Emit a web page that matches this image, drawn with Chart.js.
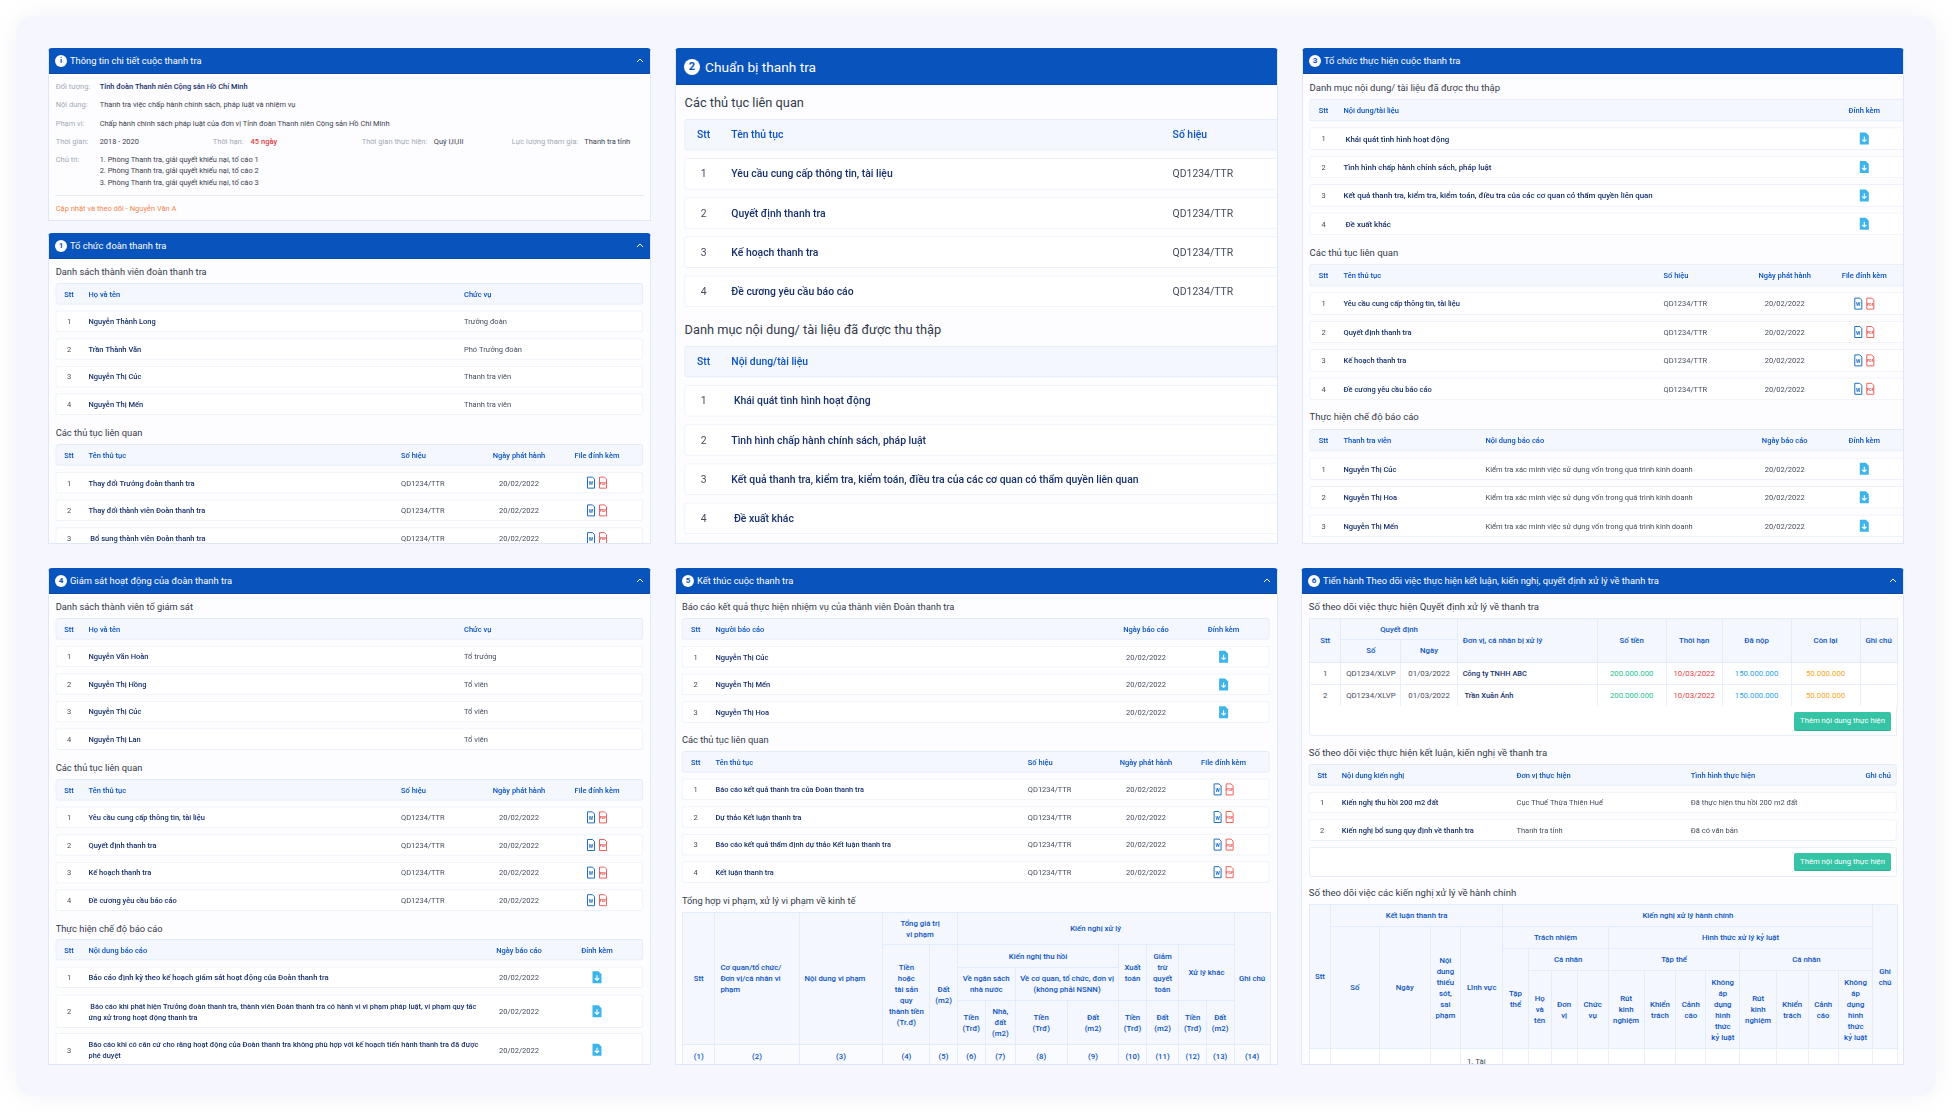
<!DOCTYPE html>
<html lang="vi">
<head>
<meta charset="utf-8">
<title>Thanh tra</title>
<script src="https://cdn.jsdelivr.net/npm/chart.js@4"></script>
<style>
  html, body { margin: 0; padding: 0; background: #fff; width: 1952px; height: 1112px; overflow: hidden; font-family: Roboto, sans-serif; }
  #card { position: absolute; left: 16px; top: 16px; width: 1920px; height: 1080px; background: #f5f6fe; border-radius: 18px; box-shadow: 0 0 22px rgba(120, 130, 190, .10); }
  #stage { position: absolute; left: 0; top: 0; width: 1952px; height: 1112px; }
  .panel { position: absolute; background: #fdfdff; overflow: hidden; border-radius: 4px 4px 0 0; }
  .panel::after { content: ''; position: absolute; inset: 0; border: 1px solid #dfe7f8; border-top: 0; pointer-events: none; }
  .head { position: absolute; left: 0; top: 0; right: 0; background: #0953bd; border-bottom: 1px solid #0a49a5; box-sizing: border-box; }
  .dot { position: absolute; background: #fff; color: #0953bd; border-radius: 50%; text-align: center; font-weight: 700; }
  .t { position: absolute; white-space: pre; }
  .panel canvas { position: absolute; }
  table.grid { position: absolute; border-collapse: collapse; table-layout: fixed; font-size: 7.8px; line-height: 11px; }
  table.grid th { background: #f4f7fd; border: 1px solid #e3ecfb; color: #0b53c1; font-weight: 500; padding: 0 2px; text-align: center; overflow: hidden; }
  table.grid th.l { text-align: left; padding-left: 5px; }
  table.grid td { background: #fff; border: 1px solid #eaf0fb; color: #444c5c; padding: 0 2px; text-align: center; overflow: hidden; white-space: nowrap; vertical-align: middle; }
  table.grid td.top { vertical-align: top; padding-top: 7px; text-align: left; padding-left: 6px; }
  table.grid td.b { color: #17306b; font-weight: 500; text-align: left; padding-left: 5px; font-size: 7.5px; }
  .box { position: absolute; background: #fff; border: 1px solid #eaf0fb; box-sizing: border-box; border-radius: 2px; }
  .btn { position: absolute; background: #35c4a5; color: #fff; border-radius: 2px; font-size: 7.7px; text-align: center; border-bottom: 1px solid #2bb093; box-sizing: border-box; }
</style>
</head>
<body>
<div id="card"></div>
<div id="stage"></div>
<script>
// --- table contents ---
const stt3 = ['1', '2', '3'];
const stt4 = ['1', '2', '3', '4'];
const soHieu = ['QD1234/TTR', 'QD1234/TTR', 'QD1234/TTR', 'QD1234/TTR'];
const ngay = ['20/02/2022', '20/02/2022', '20/02/2022', '20/02/2022'];
const hai = ['x', 'x', 'x', 'x'];

const thanhVienDoan = ['Nguyễn Thành Long', 'Trần Thành Văn', 'Nguyễn Thị Cúc', 'Nguyễn Thị Mến'];
const chucVuDoan = ['Trưởng đoàn', 'Phó Trưởng đoàn', 'Thanh tra viên', 'Thanh tra viên'];
const thuTucDoan = ['Thay đổi Trưởng đoàn thanh tra', 'Thay đổi thành viên Đoàn thanh tra', ' Bổ sung thành viên Đoàn thanh tra'];

const thuTucChung = ['Yêu cầu cung cấp thông tin, tài liệu', 'Quyết định thanh tra', 'Kế hoạch thanh tra', 'Đề cương yêu cầu báo cáo'];
const taiLieu = [' Khái quát tình hình hoạt động', 'Tình hình chấp hành chính sách, pháp luật', 'Kết quả thanh tra, kiểm tra, kiểm toán, điều tra của các cơ quan có thẩm quyền liên quan', ' Đề xuất khác'];

const thanhTraVien = ['Nguyễn Thị Cúc', 'Nguyễn Thị Hoa', 'Nguyễn Thị Mến'];
const kiemTra = 'Kiểm tra xác minh việc sử dụng vốn trong quá trình kinh doanh';
const noiDungBaoCaoVien = [kiemTra, kiemTra, kiemTra];

const toGiamSat = ['Nguyễn Văn Hoàn', 'Nguyễn Thị Hồng', 'Nguyễn Thị Cúc', 'Nguyễn Thị Lan'];
const chucVuTo = ['Tổ trưởng', 'Tổ viên', 'Tổ viên', 'Tổ viên'];
const baoCaoDinhKy = ['Báo cáo định kỳ theo kế hoạch giám sát hoạt động của Đoàn thanh tra'];
const baoCaoKhac = [
  ' Báo cáo khi phát hiện Trưởng đoàn thanh tra, thành viên Đoàn thanh tra có hành vi vi phạm pháp luật, vi phạm quy tắc\nứng xử trong hoạt động thanh tra',
  'Báo cáo khi có căn cứ cho rằng hoạt động của Đoàn thanh tra không phù hợp với kế hoạch tiến hành thanh tra đã được\nphê duyệt'
];

const nguoiBaoCao = ['Nguyễn Thị Cúc', 'Nguyễn Thị Mến', 'Nguyễn Thị Hoa'];
const thuTucKetThuc = ['Báo cáo kết quả thanh tra của Đoàn thanh tra', 'Dự thảo Kết luận thanh tra', 'Báo cáo kết quả thẩm định dự thảo Kết luận thanh tra', 'Kết luận thanh tra'];
const cotViPham = ['(1)', '(2)', '(3)', '(4)', '(5)', '(6)', '(7)', '(8)', '(9)', '(10)', '(11)', '(12)', '(13)', '(14)'];

const qdSo = ['QD1234/XLVP', 'QD1234/XLVP'];
const qdNgay = ['01/03/2022', '01/03/2022'];
const qdDonVi = ['Công ty TNHH ABC', ' Trần Xuân Ánh'];
const soTien = ['200.000.000', '200.000.000'];
const thoiHan = ['10/03/2022', '10/03/2022'];
const daNop = ['150.000.000', '150.000.000'];
const conLai = ['50.000.000', '50.000.000'];

const kienNghi = ['Kiến nghị thu hồi 200 m2 đất', 'Kiến nghị bổ sung quy định về thanh tra'];
const donViThucHien = ['Cục Thuế Thừa Thiên Huế', 'Thanh tra tỉnh'];
const tinhHinh = ['Đã thực hiện thu hồi 200 m2 đất', 'Đã có văn bản'];

// --- colours and fonts ---
const NAVY = '#17306b', BLUE = '#0b53c1', GREY = '#444c5c', MUTED = '#a3a9b6';

const stage = document.getElementById('stage');

function txt(parent, text, x, yc, css) {
  const el = document.createElement('div');
  el.className = 't';
  el.textContent = text;
  const box = parent._box || { x: 0, y: 0 };
  el.style.left = (x - box.x) + 'px';
  el.style.top = (yc - box.y - 8) + 'px';
  el.style.lineHeight = '16px';
  el.style.cssText += css;
  parent.appendChild(el);
  return el;
}

function panel(x, y, w, h, num, title, big, chevron) {
  const el = document.createElement('div');
  el.className = 'panel';
  el._box = { x, y };
  el.style.cssText = `left:${x}px;top:${y}px;width:${w}px;height:${h}px`;
  const hh = big ? 37 : 26;
  const head = document.createElement('div');
  head.className = 'head';
  head.style.height = hh + 'px';
  el.appendChild(head);
  const d = big ? 16 : 12;
  const dot = document.createElement('div');
  dot.className = 'dot';
  dot.textContent = num;
  dot.style.cssText = `left:${big ? 9 : 7}px;top:${(hh - d) / 2}px;width:${d}px;height:${d}px;line-height:${d}px;font-size:${big ? 11 : 8}px`;
  el.appendChild(dot);
  txt(el, title, x + (big ? 30 : 22), y + hh / 2, `color:#fff;font-size:${big ? 13.7 : 9.35}px`);
  if (chevron) {
    const s = document.createElementNS('http://www.w3.org/2000/svg', 'svg');
    s.setAttribute('width', 8); s.setAttribute('height', 5);
    s.style.cssText = `position:absolute;left:${w - 15}px;top:${hh / 2 - 3}px`;
    s.innerHTML = '<path d="M1 4 L4 1 L7 4" fill="none" stroke="#fff" stroke-width="1"/>';
    el.appendChild(s);
  }
  stage.appendChild(el);
  return el;
}

function section(p, text, x, yc, size) {
  txt(p, text, x, yc, `color:#333a49;font-size:${size || 9.3}px`);
}

// --- Chart.js plugin: column text and file icons placed through the chart's scales ---
function wordIcon(ctx, cx, cy) {
  ctx.strokeStyle = '#1f6fc4'; ctx.lineWidth = 1; ctx.fillStyle = '#fff';
  ctx.beginPath(); ctx.moveTo(cx - 3.5, cy - 5.5); ctx.lineTo(cx + 1.5, cy - 5.5); ctx.lineTo(cx + 3.5, cy - 3.5); ctx.lineTo(cx + 3.5, cy + 5.5); ctx.lineTo(cx - 3.5, cy + 5.5); ctx.closePath(); ctx.fill(); ctx.stroke();
  ctx.fillStyle = '#1f6fc4'; ctx.font = '700 5px Roboto'; ctx.textAlign = 'center'; ctx.textBaseline = 'middle';
  ctx.fillText('W', cx, cy + 1.5);
}
function pdfIcon(ctx, cx, cy) {
  ctx.strokeStyle = '#f06060'; ctx.lineWidth = 1; ctx.fillStyle = '#fff';
  ctx.beginPath(); ctx.moveTo(cx - 3.5, cy - 5.5); ctx.lineTo(cx + 1.5, cy - 5.5); ctx.lineTo(cx + 3.5, cy - 3.5); ctx.lineTo(cx + 3.5, cy + 5.5); ctx.lineTo(cx - 3.5, cy + 5.5); ctx.closePath(); ctx.fill(); ctx.stroke();
  ctx.fillStyle = '#ef4a4a'; ctx.font = '700 3.6px Roboto'; ctx.textAlign = 'center'; ctx.textBaseline = 'middle';
  ctx.fillText('PDF', cx, cy + 1);
}
function downloadIcon(ctx, cx, cy) {
  ctx.fillStyle = '#3db5ea';
  ctx.beginPath(); ctx.moveTo(cx - 4.5, cy - 6); ctx.lineTo(cx + 1.5, cy - 6); ctx.lineTo(cx + 4.5, cy - 3); ctx.lineTo(cx + 4.5, cy + 6); ctx.lineTo(cx - 4.5, cy + 6); ctx.closePath(); ctx.fill();
  ctx.strokeStyle = '#fff'; ctx.lineWidth = 1.1;
  ctx.beginPath(); ctx.moveTo(cx, cy - 2); ctx.lineTo(cx, cy + 3); ctx.moveTo(cx - 2.2, cy + 1); ctx.lineTo(cx, cy + 3); ctx.lineTo(cx + 2.2, cy + 1); ctx.stroke();
}

const cellsPlugin = {
  id: 'cells',
  afterDatasetsDraw(chart, args, opts) {
    const ctx = chart.ctx, sx = chart.scales.x, sy = chart.scales.y;
    ctx.save();
    opts.cols.forEach(col => {
      const px = sx.getPixelForValue(col.x);
      const list = opts.header ? [col.head].concat(col.values) : col.values;
      list.forEach((val, i) => {
        const py = sy.getPixelForValue(i);
        if (opts.header && i === 0) {
          ctx.font = `500 ${opts.size}px Roboto`;
          ctx.fillStyle = BLUE;
          ctx.textAlign = col.align || 'left';
          ctx.textBaseline = 'middle';
          ctx.fillText(val, px, py + 1);
        } else if (col.kind === 'files') {
          wordIcon(ctx, px - 6, py);
          pdfIcon(ctx, px + 6, py);
        } else if (col.kind === 'download') {
          downloadIcon(ctx, px, py);
        } else {
          ctx.font = `${col.kind === 'name' ? 500 : 400} ${col.size || opts.size}px Roboto`;
          ctx.fillStyle = col.kind === 'name' ? NAVY : GREY;
          ctx.textAlign = col.align || 'left';
          ctx.textBaseline = 'middle';
          const lines = String(val).split('\n');
          lines.forEach((line, k) => ctx.fillText(line, px, py + 1 + (k - (lines.length - 1) / 2) * 11));
        }
      });
    });
    ctx.restore();
  }
};

// one chart per list table: each row is a floating bar spanning the table width
function rowTable(p, o) {
  const n = o.cols[0].values.length + (o.header === false ? 0 : 1);
  const header = o.header !== false;
  const left = Math.floor(o.left) - 2;
  const cw = Math.ceil(o.right - left) + 4;
  const ch = Math.round(o.pitch * n);
  const c = document.createElement('canvas');
  c.width = cw; c.height = ch;
  c.style.left = (left - p._box.x) + 'px';
  c.style.top = Math.round(o.first - o.pitch / 2 - p._box.y) + 'px';
  p.appendChild(c);
  const labels = Array.from({ length: n }, (_, i) => 'r' + i);
  new Chart(c, {
    type: 'bar',
    data: {
      labels: labels,
      datasets: [{
        data: labels.map(() => [o.left, o.right]),
        backgroundColor: labels.map((_, i) => header && i === 0 ? '#f4f7fd' : '#ffffff'),
        borderColor: labels.map((_, i) => header && i === 0 ? '#e3ebf8' : '#eef1f9'),
        borderWidth: 1,
        borderRadius: 3,
        borderSkipped: false,
        barThickness: o.thick
      }]
    },
    options: {
      indexAxis: 'y',
      responsive: false,
      animation: false,
      layout: { padding: 0 },
      plugins: {
        legend: { display: false },
        tooltip: { enabled: false },
        cells: { cols: o.cols, size: o.size || 7.5, header: header }
      },
      scales: {
        x: { type: 'linear', display: false, min: left, max: left + cw },
        y: { type: 'category', display: false }
      }
    },
    plugins: [cellsPlugin]
  });
}

function grid(p, x, y, widths, heights, html) {
  const t = document.createElement('table');
  t.className = 'grid';
  t.style.cssText = `left:${x - p._box.x}px;top:${y - p._box.y}px;width:${widths.reduce((a, b) => a + b, 0)}px`;
  t.innerHTML = '<colgroup>' + widths.map(w => `<col style="width:${w}px">`).join('') + '</colgroup>' + html;
  Array.from(t.rows).forEach((r, i) => { if (heights[i]) r.style.height = heights[i] + 'px'; });
  p.appendChild(t);
  return t;
}

function button(p, text, x, y, w, h) {
  const b = document.createElement('div');
  b.className = 'btn';
  b.textContent = text;
  b.style.cssText = `left:${x - p._box.x}px;top:${y - p._box.y}px;width:${w}px;height:${h}px;line-height:${h - 1}px`;
  p.appendChild(b);
}

// --- panel: thông tin chi tiết ---
const pA = panel(48, 48, 603, 173, 'i', 'Thông tin chi tiết cuộc thanh tra', false, true);
const lab = 'color:' + MUTED + ';font-size:7.5px';
const val = 'color:#3a4150;font-size:7.45px';
txt(pA, 'Đối tượng:', 55.7, 86.7, lab);
txt(pA, 'Tỉnh đoàn Thanh niên Cộng sản Hồ Chí Minh', 99.7, 86.7, 'color:' + NAVY + ';font-weight:500;font-size:7.45px');
txt(pA, 'Nội dung:', 55.7, 105, lab);
txt(pA, 'Thanh tra việc chấp hành chính sách, pháp luật và nhiệm vụ', 99.7, 105, val);
txt(pA, 'Phạm vi:', 55.7, 123.7, lab);
txt(pA, 'Chấp hành chính sách pháp luật của đơn vị Tỉnh đoàn Thanh niên Cộng sản Hồ Chí Minh', 99.7, 123.7, val);
txt(pA, 'Thời gian:', 55.7, 142, lab);
txt(pA, '2018 - 2020', 99.7, 142, val);
txt(pA, 'Thời hạn:', 212.8, 142, lab);
txt(pA, '45 ngày', 250.6, 142, 'color:#e23b3b;font-weight:500;font-size:7.5px');
txt(pA, 'Thời gian thực hiện:', 361.7, 142, lab);
txt(pA, 'Quý I,II,III', 433.8, 142, val);
txt(pA, 'Lực lượng tham gia:', 511.8, 142, lab);
txt(pA, 'Thanh tra tỉnh', 584.3, 142, val);
txt(pA, 'Chủ trì:', 55.7, 160.3, lab);
txt(pA, '1. Phòng Thanh tra, giải quyết khiếu nại, tố cáo 1', 99.7, 160.3, val);
txt(pA, '2. Phòng Thanh tra, giải quyết khiếu nại, tố cáo 2', 99.7, 171.3, val);
txt(pA, '3. Phòng Thanh tra, giải quyết khiếu nại, tố cáo 3', 99.7, 182.7, val);
const rule = document.createElement('div');
rule.style.cssText = 'position:absolute;left:7px;right:7px;top:147px;height:1px;background:#e6ebf4';
pA.appendChild(rule);
txt(pA, 'Cập nhật và theo dõi - Nguyễn Văn A', 55.7, 208.7, 'color:#f5874f;font-size:7.5px');

// --- panel 1: tổ chức đoàn ---
const pB = panel(48, 233, 603, 311, '1', 'Tổ chức đoàn thanh tra', false, true);
section(pB, 'Danh sách thành viên đoàn thanh tra', 55.7, 271.7);
rowTable(pB, { left: 55.7, right: 643, first: 293.7, pitch: 27.67, thick: 21, cols: [
  { x: 69, align: 'center', head: 'Stt', values: stt4 },
  { x: 88.5, head: 'Họ và tên', values: thanhVienDoan, kind: 'name' },
  { x: 464, head: 'Chức vụ', values: chucVuDoan }
] });
section(pB, 'Các thủ tục liên quan', 55.7, 432.7);
rowTable(pB, { left: 55.7, right: 643, first: 454.7, pitch: 27.67, thick: 21, cols: [
  { x: 69, align: 'center', head: 'Stt', values: stt3 },
  { x: 88.5, head: 'Tên thủ tục', values: thuTucDoan, kind: 'name' },
  { x: 401, head: 'Số hiệu', values: soHieu.slice(0, 3) },
  { x: 519, align: 'center', head: 'Ngày phát hành', values: ngay.slice(0, 3) },
  { x: 597, align: 'center', head: 'File đính kèm', values: hai.slice(0, 3), kind: 'files' }
] });

// --- panel 2: chuẩn bị ---
const pC = panel(675, 48, 603, 496, '2', 'Chuẩn bị thanh tra', true, false);
section(pC, 'Các thủ tục liên quan', 684.6, 103.2, 12.8);
rowTable(pC, { left: 684.6, right: 1295, first: 134.7, pitch: 39.1, thick: 31, size: 10.4, cols: [
  { x: 703.6, align: 'center', head: 'Stt', values: stt4 },
  { x: 731.3, head: 'Tên thủ tục', values: thuTucChung, kind: 'name' },
  { x: 1172.6, head: 'Số hiệu', values: soHieu }
] });
section(pC, 'Danh mục nội dung/ tài liệu đã được thu thập', 684.6, 330, 12.8);
rowTable(pC, { left: 684.6, right: 1295, first: 362, pitch: 39.1, thick: 31, size: 10.4, cols: [
  { x: 703.6, align: 'center', head: 'Stt', values: stt4 },
  { x: 731.3, head: 'Nội dung/tài liệu', values: taiLieu, kind: 'name' }
] });

// --- panel 3: tổ chức thực hiện ---
const pD = panel(1302, 48, 602, 496, '3', 'Tổ chức thực hiện cuộc thanh tra', false, false);
section(pD, 'Danh mục nội dung/ tài liệu đã được thu thập', 1309.6, 87.7, 9.5);
rowTable(pD, { left: 1309.6, right: 1920, first: 110, pitch: 28.4, thick: 22, cols: [
  { x: 1323.5, align: 'center', head: 'Stt', values: stt4 },
  { x: 1343.5, head: 'Nội dung/tài liệu', values: taiLieu, kind: 'name', size: 7.9 },
  { x: 1864.3, align: 'center', head: 'Đính kèm', values: hai, kind: 'download' }
] });
section(pD, 'Các thủ tục liên quan', 1309.6, 252.7, 9.5);
rowTable(pD, { left: 1309.6, right: 1920, first: 275, pitch: 28.4, thick: 22, cols: [
  { x: 1323.5, align: 'center', head: 'Stt', values: stt4 },
  { x: 1343.5, head: 'Tên thủ tục', values: thuTucChung, kind: 'name' },
  { x: 1663.5, head: 'Số hiệu', values: soHieu },
  { x: 1784.7, align: 'center', head: 'Ngày phát hành', values: ngay },
  { x: 1864.3, align: 'center', head: 'File đính kèm', values: hai, kind: 'files' }
] });
section(pD, 'Thực hiện chế độ báo cáo', 1309.6, 417, 9.5);
rowTable(pD, { left: 1309.6, right: 1920, first: 439.7, pitch: 28.4, thick: 22, cols: [
  { x: 1323.5, align: 'center', head: 'Stt', values: stt3 },
  { x: 1343.5, head: 'Thanh tra viên', values: thanhTraVien, kind: 'name' },
  { x: 1485.5, head: 'Nội dung báo cáo', values: noiDungBaoCaoVien },
  { x: 1784.7, align: 'center', head: 'Ngày báo cáo', values: ngay.slice(0, 3) },
  { x: 1864.3, align: 'center', head: 'Đính kèm', values: hai.slice(0, 3), kind: 'download' }
] });

// --- panel 4: giám sát ---
const pE = panel(48, 568, 603, 497, '4', 'Giám sát hoạt động của đoàn thanh tra', false, true);
section(pE, 'Danh sách thành viên tổ giám sát', 55.7, 607);
rowTable(pE, { left: 55.7, right: 643, first: 628.7, pitch: 27.67, thick: 21, cols: [
  { x: 69, align: 'center', head: 'Stt', values: stt4 },
  { x: 88.5, head: 'Họ và tên', values: toGiamSat, kind: 'name' },
  { x: 464, head: 'Chức vụ', values: chucVuTo }
] });
section(pE, 'Các thủ tục liên quan', 55.7, 767.7);
rowTable(pE, { left: 55.7, right: 643, first: 790, pitch: 27.67, thick: 21, cols: [
  { x: 69, align: 'center', head: 'Stt', values: stt4 },
  { x: 88.5, head: 'Tên thủ tục', values: thuTucChung, kind: 'name' },
  { x: 401, head: 'Số hiệu', values: soHieu },
  { x: 519, align: 'center', head: 'Ngày phát hành', values: ngay },
  { x: 597, align: 'center', head: 'File đính kèm', values: hai, kind: 'files' }
] });
section(pE, 'Thực hiện chế độ báo cáo', 55.7, 928.7);
rowTable(pE, { left: 55.7, right: 643, first: 950.3, pitch: 27.67, thick: 21, cols: [
  { x: 69, align: 'center', head: 'Stt', values: ['1'] },
  { x: 88.5, head: 'Nội dung báo cáo', values: baoCaoDinhKy, kind: 'name', size: 7.7 },
  { x: 519, align: 'center', head: 'Ngày báo cáo', values: ngay.slice(0, 1) },
  { x: 597, align: 'center', head: 'Đính kèm', values: hai.slice(0, 1), kind: 'download' }
] });
rowTable(pE, { left: 55.7, right: 643, first: 1011.3, pitch: 38.7, thick: 33, header: false, cols: [
  { x: 69, align: 'center', values: ['2', '3'] },
  { x: 88.5, values: baoCaoKhac, kind: 'name', size: 7.4 },
  { x: 519, align: 'center', values: ngay.slice(0, 2) },
  { x: 597, align: 'center', values: hai.slice(0, 2), kind: 'download' }
] });

// --- panel 5: kết thúc ---
const pF = panel(675, 568, 603, 497, '5', 'Kết thúc cuộc thanh tra', false, true);
section(pF, 'Báo cáo kết quả thực hiện nhiệm vụ của thành viên Đoàn thanh tra', 681.9, 607);
rowTable(pF, { left: 681.9, right: 1269.4, first: 628.7, pitch: 27.67, thick: 21, cols: [
  { x: 695.7, align: 'center', head: 'Stt', values: stt3 },
  { x: 715.5, head: 'Người báo cáo', values: nguoiBaoCao, kind: 'name' },
  { x: 1146, align: 'center', head: 'Ngày báo cáo', values: ngay.slice(0, 3) },
  { x: 1223.6, align: 'center', head: 'Đính kèm', values: hai.slice(0, 3), kind: 'download' }
] });
section(pF, 'Các thủ tục liên quan', 681.9, 740);
rowTable(pF, { left: 681.9, right: 1269.4, first: 762, pitch: 27.67, thick: 21, cols: [
  { x: 695.7, align: 'center', head: 'Stt', values: stt4 },
  { x: 715.5, head: 'Tên thủ tục', values: thuTucKetThuc, kind: 'name', size: 7.4 },
  { x: 1027.8, head: 'Số hiệu', values: soHieu },
  { x: 1146, align: 'center', head: 'Ngày phát hành', values: ngay },
  { x: 1223.6, align: 'center', head: 'File đính kèm', values: hai, kind: 'files' }
] });
section(pF, 'Tổng hợp vi phạm, xử lý vi phạm về kinh tế', 681.9, 900.7);
grid(pF, 682, 912, [32.4, 84.2, 83.8, 47, 27.3, 28.1, 30, 51.8, 51.8, 27.3, 32.8, 27.3, 27.7, 36], [32, 23, 33, 44, 40], `
  <tr><th rowspan="4">Stt</th><th rowspan="4" class="l">Cơ quan/tổ chức/<br>Đơn vị/cá nhân vi<br>phạm</th><th rowspan="4" class="l">Nội dung vi phạm</th><th colspan="2">Tổng giá trị<br>vi phạm</th><th colspan="8">Kiến nghị xử lý</th><th rowspan="4">Ghi chú</th></tr>
  <tr><th rowspan="3">Tiền<br>hoặc<br>tài sản<br>quy<br>thành tiền<br>(Tr.đ)</th><th rowspan="3">Đất<br>(m2)</th><th colspan="4">Kiến nghị thu hồi</th><th rowspan="2">Xuất<br>toán</th><th rowspan="2">Giảm<br>trừ<br>quyết<br>toán</th><th rowspan="2" colspan="2">Xử lý khác</th></tr>
  <tr><th colspan="2">Về ngân sách<br>nhà nước</th><th colspan="2">Về cơ quan, tổ chức, đơn vị<br>(không phải NSNN)</th></tr>
  <tr><th>Tiền<br>(Trđ)</th><th>Nhà,<br>đất<br>(m2)</th><th>Tiền<br>(Trđ)</th><th>Đất<br>(m2)</th><th>Tiền<br>(Trđ)</th><th>Đất<br>(m2)</th><th>Tiền<br>(Trđ)</th><th>Đất<br>(m2)</th></tr>
  <tr>${cotViPham.map(v => `<th style="vertical-align:top;padding-top:6px;background:#fafbfe">${v}</th>`).join('')}</tr>`);

// --- panel 6: tiến hành theo dõi ---
const pG = panel(1301, 568, 603, 497, '6', 'Tiến hành Theo dõi việc thực hiện kết luận, kiến nghị, quyết định xử lý về thanh tra', false, true);
section(pG, 'Số theo dõi việc thực hiện Quyết định xử lý về thanh tra', 1308.8, 607, 9.5);
grid(pG, 1309, 618, [31.4, 60, 56.3, 140, 69, 55.9, 69, 69, 37.1], [21, 22.5, 22.5, 22], `
  <tr><th rowspan="2">Stt</th><th colspan="2">Quyết định</th><th rowspan="2" class="l">Đơn vị, cá nhân bị xử lý</th><th rowspan="2">Số tiền</th><th rowspan="2">Thời hạn</th><th rowspan="2">Đã nộp</th><th rowspan="2">Còn lại</th><th rowspan="2">Ghi chú</th></tr>
  <tr><th>Số</th><th>Ngày</th></tr>
  ${qdSo.map((s, i) => `<tr><td>${i + 1}</td><td>${s}</td><td>${qdNgay[i]}</td><td class="b" style="white-space:pre">${qdDonVi[i]}</td><td style="color:#27c08f">${soTien[i]}</td><td style="color:#e8403f">${thoiHan[i]}</td><td style="color:#2d9fe8">${daNop[i]}</td><td style="color:#f5a623">${conLai[i]}</td><td></td></tr>`).join('')}`);
const box1 = document.createElement('div');
box1.className = 'box';
box1.style.cssText = 'left:8px;top:138px;width:588px;height:30px;border-top:0';
pG.appendChild(box1);
button(pG, 'Thêm nội dung thực hiện', 1794, 712, 97, 19);
section(pG, 'Số theo dõi việc thực hiện kết luận, kiến nghị về thanh tra', 1308.8, 752.7, 9.5);
rowTable(pG, { left: 1308.8, right: 1896.5, first: 774.7, pitch: 27.67, thick: 21, cols: [
  { x: 1322.2, align: 'center', head: 'Stt', values: ['1', '2'] },
  { x: 1341.8, head: 'Nội dung kiến nghị', values: kienNghi, kind: 'name' },
  { x: 1516.5, head: 'Đơn vị thực hiện', values: donViThucHien },
  { x: 1690.8, head: 'Tình hình thực hiện', values: tinhHinh },
  { x: 1865.5, head: 'Ghi chú', values: ['', ''] }
] });
const box2 = document.createElement('div');
box2.className = 'box';
box2.style.cssText = 'left:8px;top:279px;width:588px;height:30px;border-radius:3px';
pG.appendChild(box2);
button(pG, 'Thêm nội dung thực hiện', 1794, 853, 97, 18);
section(pG, 'Số theo dõi việc các kiến nghị xử lý về hành chính', 1308.8, 893.3, 9.5);
const bodyRow = Array.from({ length: 18 }, (_, i) => i === 4 ? '<td class="top">1. Tài</td>' : '<td></td>').join('');
grid(pG, 1309, 904, [20.8, 49, 51, 30.2, 42.4, 25.3, 22.9, 26.1, 31, 35.9, 31.8, 29.8, 34.3, 36.3, 31.8, 30.2, 34.7, 24.1], [22, 22, 22, 78, 40], `
  <tr><th rowspan="4">Stt</th><th colspan="4">Kết luận thanh tra</th><th colspan="12">Kiến nghị xử lý hành chính</th><th rowspan="4">Ghi<br>chú</th></tr>
  <tr><th rowspan="3">Số</th><th rowspan="3">Ngày</th><th rowspan="3">Nội<br>dung<br>thiếu<br>sót,<br>sai<br>phạm</th><th rowspan="3">Lĩnh vực</th><th colspan="4">Trách nhiệm</th><th colspan="8">Hình thức xử lý kỷ luật</th></tr>
  <tr><th rowspan="2">Tập<br>thể</th><th colspan="3">Cá nhân</th><th colspan="4">Tập thể</th><th colspan="4">Cá nhân</th></tr>
  <tr><th>Họ<br>và<br>tên</th><th>Đơn<br>vị</th><th>Chức<br>vụ</th><th>Rút<br>kinh<br>nghiệm</th><th>Khiển<br>trách</th><th>Cảnh<br>cáo</th><th>Không<br>áp<br>dụng<br>hình<br>thức<br>kỷ luật</th><th>Rút<br>kinh<br>nghiệm</th><th>Khiển<br>trách</th><th>Cảnh<br>cáo</th><th>Không<br>áp<br>dụng<br>hình<br>thức<br>kỷ luật</th></tr>
  <tr>${bodyRow}</tr>`);
</script>
</body>
</html>
